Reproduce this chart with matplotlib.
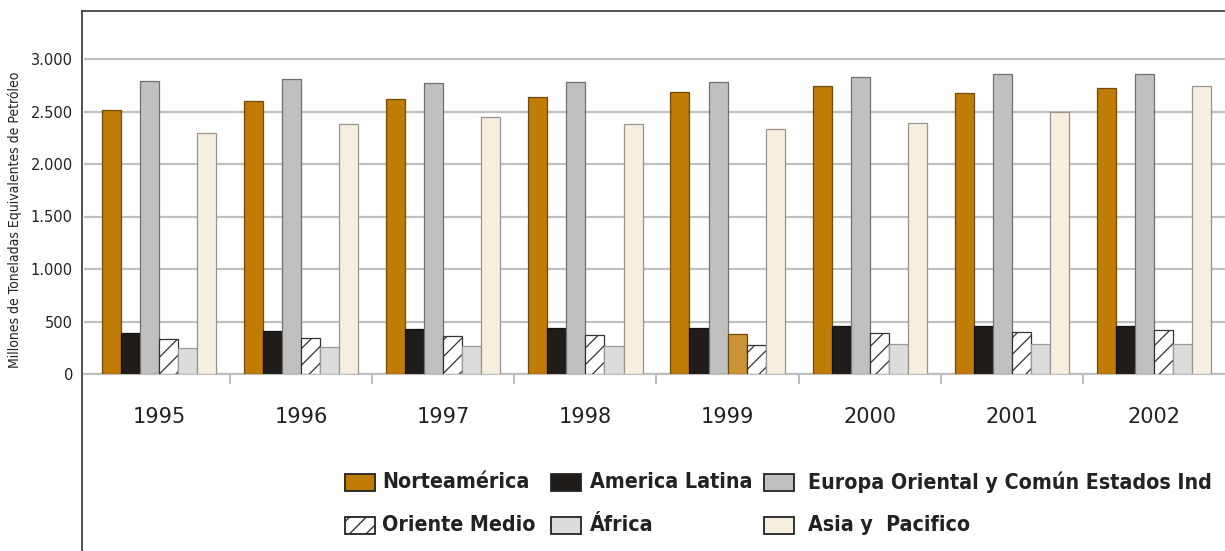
import matplotlib
matplotlib.use('Agg')
import matplotlib.pyplot as plt
import numpy as np
from matplotlib.patches import Rectangle
from matplotlib.lines import Line2D

years = ['1995', '1996', '1997', '1998', '1999', '2000', '2001', '2002']
series = ['Norteamérica', 'America Latina', 'Europa Oriental y Común Estados Ind',
          'Oriente Medio', 'África', 'Asia y  Pacifico']
norteamerica = [2510, 2600, 2620, 2640, 2683, 2740, 2680, 2727]
america_latina = [390, 410, 430, 440, 441, 457, 460, 460]
europa_oriental = [2790, 2810, 2770, 2780, 2778, 2826, 2855, 2854]
oriente_medio = [333, 340, 360, 370, 378, 387, 400, 422]
africa = [248, 255, 262, 270, 273, 283, 282, 289]
asia_pacifico = [2295, 2385, 2450, 2380, 2336, 2394, 2500, 2740]
yticks = [0, 500, 1000, 1500, 2000, 2500, 3000]
ytick_labels = ['0', '500', '1.000', '1.500', '2.000', '2.500', '3.000']

values = [norteamerica, america_latina, europa_oriental, oriente_medio, africa, asia_pacifico]
colors = ['#C07C05', '#201C1A', '#C0C0C0', 'white', '#DCDCDC', '#F6EEDF']
edges = ['#6E4B0B', '#111111', '#707070', '#333333', '#9A9A9A', '#9A948C']
hatches = [None, None, None, '//', None, None]

W, H = 1225, 551
fig = plt.figure(figsize=(W / 100, H / 100), dpi=100)
plt.rcParams['hatch.linewidth'] = 0.9

ymax = 3300
ax_bottom_px = 374
ax_height_px = 0.105 * ymax
ax = fig.add_axes([84 / W, 1 - ax_bottom_px / H, (W - 84) / W, ax_height_px / H])

x = np.arange(len(years))
bw = 0.134
for i, vals in enumerate(values):
    bars = ax.bar(x + (i - 2.5) * bw, vals, bw, color=colors[i], edgecolor=edges[i],
                  linewidth=0.9, hatch=hatches[i], zorder=3)
    if i == 3:
        # 1999: this bar was drawn in a lighter orange in the original
        bars[4].set_hatch(None)
        bars[4].set_facecolor('#CC9336')
        bars[4].set_edgecolor('#6E4B0B')
    if i == 4:
        # 1999: Africa drawn hatched
        bars[4].set_hatch('//')
        bars[4].set_facecolor('white')
        bars[4].set_edgecolor('#333333')

ax.set_xlim(-0.528, 7.5)
ax.set_ylim(0, ymax)
ax.set_yticks(yticks)
ax.set_yticklabels(ytick_labels, fontsize=10.5, color='#222222')
ax.tick_params(axis='y', length=0, pad=8)
ax.yaxis.grid(True, color='#C0C0C0', linewidth=1.6, zorder=0)
ax.set_axisbelow(True)

ax.set_xticks(x)
ax.set_xticklabels(years, fontsize=15, color='#222222')
ax.tick_params(axis='x', which='major', length=0, pad=24)
ax.set_xticks(np.arange(0.5, 7.5, 1), minor=True)
ax.tick_params(axis='x', which='minor', length=7, width=1.2, color='#B0B0B0')

for s in ['top', 'right', 'left']:
    ax.spines[s].set_visible(False)
ax.spines['bottom'].set_color('#C0C0C0')
ax.spines['bottom'].set_linewidth(1.6)

# outer frame (left and top edges)
fig.add_artist(Line2D([82 / W, 82 / W], [0, 1 - 11 / H], transform=fig.transFigure,
                      color='#444444', linewidth=1.3))
fig.add_artist(Line2D([82 / W, 1], [1 - 11 / H, 1 - 11 / H], transform=fig.transFigure,
                      color='#444444', linewidth=1.3))

fig.text(15 / W, 1 - 220 / H, 'Millones de Toneladas Equivalentes de Petróleo',
         rotation=90, ha='center', va='center', fontsize=10, fontstretch='condensed',
         color='#222222')

# legend, drawn as a 3-column grid
leg_cols = [345, 551, 764]
leg_text_x = [382, 590, 808]
leg_rows = [482, 525]
order = [(0, 0, 0), (1, 0, 1), (2, 0, 2), (3, 1, 0), (4, 1, 1), (5, 1, 2)]
leg_face = ['#C07C05', '#201C1A', '#C0C0C0', 'white', '#DCDCDC', '#F6EEDF']
for idx, r, c in order:
    px, py = leg_cols[c], leg_rows[r]
    rect = Rectangle((px / W, 1 - (py + 8.5) / H), 30 / W, 17 / H, transform=fig.transFigure,
                     facecolor=leg_face[idx], edgecolor='#222222', linewidth=1.3,
                     hatch='//' if idx == 3 else None)
    fig.add_artist(rect)
    fig.text(leg_text_x[c] / W, 1 - py / H, series[idx], ha='left', va='center',
             fontsize=15.3, fontweight='bold', fontstretch='condensed', color='#222222')

fig.savefig('out.png', dpi=100)
